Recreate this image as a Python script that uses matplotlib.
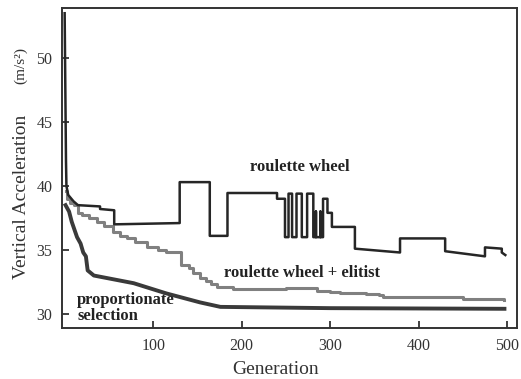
import numpy as np
import matplotlib.pyplot as plt

plt.rcParams['font.family'] = ['Liberation Serif', 'DejaVu Serif']

# roulette wheel (vertical jumps as repeated x)
rw_gen = [0, 1, 1.5, 2, 4, 10, 15, 40, 40, 56, 56, 130, 130, 164, 164, 184, 184,
          240, 240, 249, 249, 253, 253, 257, 257, 262, 262, 268, 268, 274, 274,
          281, 281, 284, 284, 284, 289, 289, 289, 292, 292, 297, 297, 302, 302,
          328, 328, 379, 379, 430, 430, 475, 475, 494, 494, 498]
rw_val = [53.5, 45.8, 42.0, 40.0, 39.3, 38.8, 38.5, 38.4, 38.2, 38.1, 37.0, 37.1, 40.3,
          40.3, 36.1, 36.1, 39.45, 39.45, 39.0, 39.0, 36.0, 36.0, 39.4, 39.4, 36.0,
          36.0, 39.4, 39.4, 36.0, 36.0, 39.4, 39.4, 36.0, 36.0, 38.0, 36.0, 36.0,
          38.0, 36.0, 36.0, 39.0, 39.0, 37.9, 37.9, 36.8, 36.8, 35.1, 34.8, 35.9,
          35.9, 34.9, 34.5, 35.2, 35.1, 34.8, 34.6]

# roulette wheel + elitist (staircase)
el_gen = [1, 3, 6, 10, 15, 20, 28, 36, 45, 55, 62, 70, 80, 93, 105, 115, 132, 140,
          145, 153, 160, 165, 172, 190, 250, 285, 300, 311, 340, 355, 360, 416, 450,
          497]
el_val = [39.6, 39.0, 38.7, 38.5, 37.9, 37.7, 37.5, 37.2, 36.9, 36.4, 36.1, 35.9,
          35.6, 35.2, 35.0, 34.8, 33.8, 33.6, 33.2, 32.8, 32.6, 32.3, 32.1, 31.95,
          32.0, 31.8, 31.75, 31.6, 31.55, 31.5, 31.3, 31.35, 31.2, 31.1]

# proportionate selection
ps_gen = [1, 5, 8, 14, 18, 21, 24, 26, 33, 78, 115, 153, 176, 300, 497]
ps_val = [38.5, 38.0, 37.2, 36.0, 35.5, 34.8, 34.5, 33.4, 33.0, 32.4, 31.6, 30.9,
          30.55, 30.45, 30.4]

fig = plt.figure(figsize=(5.21, 3.79), dpi=100)
ax = fig.add_axes([0.119, 0.1346, 0.873, 0.844])

ax.plot(el_gen, el_val, color='#808080', lw=2.2, drawstyle='steps-post')
ax.plot(ps_gen, ps_val, color='#3a3a3a', lw=2.8)
ax.plot(rw_gen, rw_val, color='#262626', lw=1.8)

ax.set_xlim(-3, 511)
ax.set_ylim(28.9, 53.9)
ax.set_xticks([100, 200, 300, 400, 500])
ax.set_yticks([30, 35, 40, 45, 50])
ax.tick_params(direction='in', length=5, width=1.3, labelsize=11.5, pad=7,
               colors='#333333')
for s in ax.spines.values():
    s.set_linewidth(1.4)
    s.set_color('#333333')

ax.text(209, 41.48, 'roulette wheel', fontsize=12, fontweight='bold',
        va='center', color='#222222')
ax.text(180, 33.2, 'roulette wheel + elitist', fontsize=12, fontweight='bold',
        va='center', color='#222222')
ax.text(14, 30.43, 'proportionate\nselection', fontsize=12, fontweight='bold',
        va='center', linespacing=1.0, color='#222222')

fig.text(276 / 521, 1 - 370 / 379, 'Generation', fontsize=14, ha='center',
         va='center', color='#333333')
fig.text(22 / 521, 1 - 196.5 / 379, 'Vertical Acceleration', fontsize=14,
         rotation=90, ha='center', va='center', color='#333333')
fig.text(21 / 521, 1 - 65 / 379, '(m/s²)', fontsize=11, rotation=90,
         ha='center', va='center', color='#333333')

plt.savefig('out.png', dpi=100)
